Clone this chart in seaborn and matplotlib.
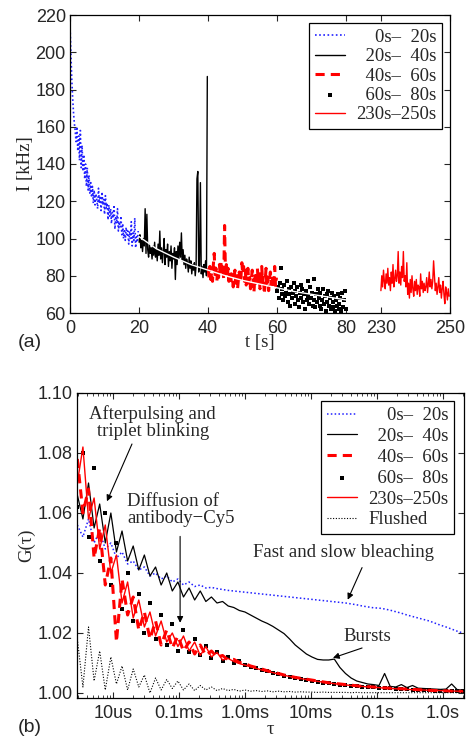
import numpy as np
import seaborn as sns
import matplotlib.pyplot as plt

# ---------------- panel (a): intensity traces ----------------
# time bases (s), one sample every 0.25 s
t_0_20 = np.arange(0, 20, 0.25)
t_20_40 = np.arange(20, 40, 0.25)
t_40_60 = np.arange(40, 60, 0.25)
t_60_80 = np.arange(60, 80, 0.25)
t_230_250 = np.arange(230, 250, 0.25)

I_0_20 = [215, 200, 186, 176, 168, 162, 158, 152, 160, 147, 155, 142,
          158, 138, 150, 136, 145, 132, 140, 128, 138, 126, 134, 124,
          130, 122, 128, 119, 126, 118, 124, 121, 116, 127, 119, 123,
          115, 125, 118, 121, 113, 123, 116, 119, 110, 118, 112, 116,
          108, 114, 111, 118, 105, 112, 108, 116, 104, 109, 106, 112,
          102, 108, 100, 105, 99, 106, 102, 104, 97, 104, 100, 109,
          96, 103, 99, 111, 95, 101, 98, 104]
I_20_40 = [98, 102, 95, 99, 93, 100, 96, 116, 92, 113, 94, 90,
           97, 92, 95, 89, 96, 91, 98, 90, 94, 88, 97, 91,
           104, 89, 95, 87, 93, 100, 86, 94, 90, 97, 85, 93,
           88, 96, 84, 92, 89, 95, 78, 93, 86, 96, 89, 98,
           90, 103, 88, 94, 86, 91, 84, 89, 87, 82, 90, 84,
           88, 81, 86, 83, 87, 80, 85, 132, 136, 82, 86, 130,
           81, 85, 79, 86, 82, 88, 80, 187]
I_40_60 = [84, 79, 85, 78, 82, 77, 86, 92, 80, 84, 77, 83,
           79, 86, 80, 88, 82, 85, 78, 107, 81, 86, 79, 84,
           77, 82, 75, 81, 80, 74, 79, 83, 76, 81, 73, 78,
           82, 76, 80, 87, 81, 85, 77, 83, 75, 80, 84, 76,
           79, 73, 78, 83, 77, 71, 80, 74, 79, 84, 76, 81,
           73, 78, 85, 76, 80, 70, 77, 84, 74, 79, 72, 78,
           82, 75, 80, 73, 77, 85, 74, 79]
I_60_80 = [72, 74, 68, 76, 84, 70, 73, 67, 75, 69, 71, 77,
           66, 73, 70, 64, 74, 68, 71, 76, 65, 72, 69, 74,
           67, 63, 71, 75, 68, 73, 66, 70, 62, 72, 67, 77,
           69, 65, 74, 68, 71, 64, 78, 67, 63, 70, 66, 73,
           68, 64, 71, 62, 67, 73, 65, 69, 61, 70, 66, 72,
           64, 68, 62, 71, 66, 63, 69, 61, 67, 64, 70, 62,
           65, 68, 61, 71, 63, 67, 72, 62]
I_230_250 = [72, 80, 74, 83, 77, 73, 81, 76, 84, 75, 79, 72,
             82, 76, 86, 74, 78, 83, 77, 80, 93, 76, 82, 75,
             85, 79, 93, 77, 80, 74, 87, 70, 76, 68, 78, 71,
             80, 73, 69, 77, 72, 78, 70, 75, 74, 69, 81, 73,
             77, 71, 76, 72, 74, 79, 71, 76, 82, 74, 78, 73,
             77, 88, 80, 72, 76, 70, 74, 79, 71, 75, 68, 73,
             77, 70, 65, 74, 71, 67, 73, 69]
fit_t = [20, 25, 30, 35, 40, 45, 50, 55, 60, 65, 70, 75, 80]
fit_I = [101, 94.5, 90, 86, 83, 80, 77.5, 75.5, 73.5, 71.5, 70, 68.5, 67]

# the axis is broken: 230-250 s is drawn right after 80 s
t_gap = 140
xticks_a = [0, 20, 40, 60, 80, 90, 110]
xticklabels_a = ["0", "20", "40", "60", "80", "230", "250"]

# ---------------- panel (b): correlation curves ----------------
tau = np.logspace(-5.54, 0.30, 70)

G_0_20 = [1.056, 1.052, 1.058, 1.050, 1.054, 1.048,
          1.050, 1.045, 1.047, 1.043, 1.044, 1.041,
          1.042, 1.039, 1.040, 1.038, 1.039, 1.037,
          1.038, 1.036, 1.037, 1.0355, 1.036, 1.035,
          1.0352, 1.0348, 1.0345, 1.0342, 1.034, 1.0338,
          1.0336, 1.0334, 1.0332, 1.033, 1.0328, 1.0326,
          1.0324, 1.0322, 1.032, 1.0318, 1.0316, 1.0314,
          1.0312, 1.031, 1.0308, 1.0306, 1.0304, 1.0302,
          1.030, 1.0297, 1.0294, 1.029, 1.0287, 1.0284,
          1.0283, 1.028, 1.0276, 1.0271, 1.0266, 1.026,
          1.0255, 1.025, 1.0245, 1.024, 1.0233, 1.0226,
          1.022, 1.0213, 1.0206, 1.020]
G_20_40 = [1.066, 1.058, 1.070, 1.055, 1.063, 1.050,
           1.060, 1.047, 1.054, 1.044, 1.049, 1.041,
           1.046, 1.039, 1.042, 1.036, 1.040, 1.034,
           1.037, 1.032, 1.035, 1.031, 1.034, 1.0305,
           1.032, 1.030, 1.0305, 1.029, 1.0285, 1.0275,
           1.027, 1.026, 1.025, 1.024, 1.0232, 1.0222,
           1.021, 1.0198, 1.018, 1.016, 1.0145, 1.013,
           1.012, 1.0112, 1.011, 1.011, 1.0113, 1.0085,
           1.0065, 1.005, 1.004, 1.0035, 1.003, 1.0028,
           1.0025, 1.0065, 1.0022, 1.002, 1.0028, 1.0018,
           1.0025, 1.0016, 1.0015, 1.0014, 1.0013, 1.0012,
           1.0013, 1.003, 1.0011, 1.001]
G_40_60 = [1.078, 1.060, 1.068, 1.045, 1.055, 1.036,
           1.045, 1.017, 1.038, 1.026, 1.032, 1.021,
           1.027, 1.018, 1.024, 1.016, 1.021, 1.015,
           1.019, 1.014, 1.017, 1.013, 1.016, 1.0125,
           1.014, 1.012, 1.0125, 1.011, 1.0112, 1.0102,
           1.0098, 1.009, 1.0085, 1.008, 1.0074, 1.007,
           1.0065, 1.006, 1.0056, 1.0052, 1.0049, 1.0046,
           1.0043, 1.004, 1.0037, 1.0034, 1.0032, 1.003,
           1.0028, 1.0026, 1.0024, 1.0022, 1.0021, 1.002,
           1.0018, 1.0017, 1.0016, 1.0015, 1.0014, 1.0013,
           1.0012, 1.0011, 1.001, 1.0009, 1.0008, 1.0008,
           1.0007, 1.0006, 1.0006, 1.0005]
G_60_80 = [1.062, 1.080, 1.052, 1.075, 1.044, 1.060,
           1.036, 1.050, 1.028, 1.040, 1.024, 1.033,
           1.020, 1.030, 1.018, 1.026, 1.016, 1.023,
           1.014, 1.021, 1.0135, 1.018, 1.0125, 1.0155,
           1.0115, 1.0135, 1.0105, 1.012, 1.010, 1.0105,
           1.0092, 1.0088, 1.0082, 1.0078, 1.0072, 1.0067,
           1.0062, 1.0058, 1.0054, 1.005, 1.0046, 1.0043,
           1.004, 1.0037, 1.0034, 1.0032, 1.003, 1.0028,
           1.0026, 1.0024, 1.0023, 1.0021, 1.002, 1.0019,
           1.0018, 1.0016, 1.0015, 1.0014, 1.0013, 1.0012,
           1.0011, 1.001, 1.001, 1.0009, 1.0008, 1.0008,
           1.0007, 1.0006, 1.0006, 1.0005]
G_230_250 = [1.070, 1.082, 1.058, 1.065, 1.048, 1.056,
             1.040, 1.046, 1.030, 1.037, 1.025, 1.031,
             1.022, 1.027, 1.019, 1.024, 1.017, 1.020,
             1.0155, 1.019, 1.014, 1.017, 1.0125, 1.0155,
             1.012, 1.0135, 1.011, 1.0115, 1.0105, 1.0098,
             1.0093, 1.0088, 1.0082, 1.0077, 1.0072, 1.0068,
             1.0063, 1.0059, 1.0055, 1.0051, 1.0048, 1.0045,
             1.0042, 1.0039, 1.0036, 1.0034, 1.0031, 1.0029,
             1.0027, 1.0025, 1.0023, 1.0022, 1.002, 1.0019,
             1.0018, 1.0016, 1.0015, 1.0014, 1.0013, 1.0012,
             1.0011, 1.0011, 1.001, 1.0009, 1.0009, 1.0008,
             1.0007, 1.0007, 1.0006, 1.0005]
G_flushed = [1.018, 1.002, 1.022, 1.004, 1.014, 1.001,
             1.012, 1.003, 1.009, 1.001, 1.008, 1.002,
             1.006, 1.000, 1.005, 1.001, 1.0045, 1.0015,
             1.004, 1.001, 1.003, 1.0008, 1.0025, 1.001,
             1.002, 1.0008, 1.0015, 1.0008, 1.0012, 1.0006,
             1.001, 1.0006, 1.0008, 1.0005, 1.0007, 1.0004,
             1.0006, 1.0004, 1.0005, 1.0003, 1.0004, 1.0003,
             1.0003, 1.0002, 1.0003, 1.0002, 1.0002, 1.0002,
             1.0002, 1.0001, 1.0002, 1.0001, 1.0001, 1.0001,
             1.0001, 1.0001, 1.0001, 1.0001, 1.0001, 1.0001,
             1.0001, 1.0001, 1.0001, 1.0001, 1.0001, 1.0001,
             1.0001, 1.0001, 1.0001, 1.0001]
xticks_b = [1e-5, 1e-4, 1e-3, 1e-2, 1e-1, 1e0]
xticklabels_b = ["10us", "0.1ms", "1.0ms", "10ms", "0.1s", "1.0s"]

labels = ["    0s\u2013  20s", "  20s\u2013  40s", "  40s\u2013  60s",
          "  60s\u2013  80s", "230s\u2013250s", "Flushed"]

# ---------------- style ----------------
sns.set_style("ticks")
plt.rcParams["font.family"] = ["Liberation Sans", "DejaVu Sans"]
plt.rcParams["xtick.direction"] = "in"
plt.rcParams["ytick.direction"] = "in"
plt.rcParams["xtick.top"] = True
plt.rcParams["ytick.right"] = True
plt.rcParams["axes.edgecolor"] = "black"
plt.rcParams["axes.linewidth"] = 0.9
serif = ["Liberation Serif", "DejaVu Serif"]
fs_text = 13.5
fs_tick = 13

fig = plt.figure(figsize=(4.71, 7.38), dpi=100)
ax1 = fig.add_axes([70 / 471, 1 - 313 / 738, 380 / 471, 298 / 738])
ax2 = fig.add_axes([77 / 471, 1 - 698 / 738, 387 / 471, 305 / 738])

# ---- panel (a)
sns.lineplot(x=t_0_20, y=I_0_20, ax=ax1, color="#2020ff", lw=1.2,
             linestyle=(0, (1, 1.5)), label=labels[0])
sns.lineplot(x=t_20_40, y=I_20_40, ax=ax1, color="black", lw=1.0, label=labels[1])
sns.lineplot(x=t_40_60, y=I_40_60, ax=ax1, color="red", lw=2.2,
             linestyle=(0, (3, 2)), label=labels[2])
sns.scatterplot(x=t_60_80, y=I_60_80, ax=ax1, color="black", marker="s", s=5,
                linewidth=0, label=labels[3])
sns.lineplot(x=t_230_250 - t_gap, y=I_230_250, ax=ax1, color="red", lw=1.0,
             label=labels[4])
sns.lineplot(x=fit_t, y=fit_I, ax=ax1, color="white", lw=1.0)

ax1.set_xlim(0, 110)
ax1.set_ylim(60, 220)
ax1.set_xticks(xticks_a)
ax1.set_xticklabels(xticklabels_a)
ax1.set_yticks(range(60, 221, 20))
ax1.tick_params(labelsize=fs_tick, length=4, width=0.8, pad=3)
ax1.tick_params(axis="x", pad=5)
ax1.set_xlabel("t [s]", family=serif, fontsize=fs_text)
ax1.set_ylabel("I [kHz]", family=serif, fontsize=fs_text)
ax1.xaxis.set_label_coords(0.5, -0.072)
ax1.yaxis.set_label_coords(-0.094, 0.5)
h, l = ax1.get_legend_handles_labels()
ax1.legend(h[:5], l[:5], loc="upper right", bbox_to_anchor=(0.99, 0.985),
           prop={"family": serif, "size": fs_text}, frameon=True, fancybox=False,
           edgecolor="black", framealpha=1, handlelength=1.6, handletextpad=0.6,
           labelspacing=0.12, borderpad=0.3, borderaxespad=0.2)
ax1.get_legend().get_frame().set_linewidth(0.9)

# ---- panel (b)
sns.lineplot(x=tau, y=G_0_20, ax=ax2, color="#2020ff", lw=1.1,
             linestyle=(0, (1, 1.5)), label=labels[0])
sns.lineplot(x=tau, y=G_20_40, ax=ax2, color="black", lw=0.9, label=labels[1])
sns.lineplot(x=tau, y=G_40_60, ax=ax2, color="red", lw=2.2,
             linestyle=(0, (3, 2)), label=labels[2])
sns.scatterplot(x=tau, y=G_60_80, ax=ax2, color="black", marker="s", s=5,
                linewidth=0, label=labels[3])
sns.lineplot(x=tau, y=G_230_250, ax=ax2, color="red", lw=1.0, label=labels[4])
sns.lineplot(x=tau, y=G_flushed, ax=ax2, color="black", lw=0.8,
             linestyle=(0, (1, 1.5)), label=labels[5])

ax2.set_xscale("log")
ax2.set_xlim(2.85e-6, 2.08)
ax2.set_ylim(0.99833, 1.10)
ax2.set_xticks(xticks_b)
ax2.set_xticklabels(xticklabels_b)
ax2.set_yticks([1.00, 1.02, 1.04, 1.06, 1.08, 1.10])
ax2.set_yticklabels(["1.00", "1.02", "1.04", "1.06", "1.08", "1.10"])
ax2.tick_params(labelsize=fs_tick, length=4, width=0.8, pad=3)
ax2.tick_params(axis="x", pad=5)
ax2.tick_params(which="minor", length=2, width=0.6)
ax2.set_xlabel("\u03c4", family=serif, fontsize=fs_text)
ax2.set_ylabel("G(\u03c4)", family=serif, fontsize=fs_text)
ax2.xaxis.set_label_coords(0.5, -0.076)
ax2.yaxis.set_label_coords(-0.108, 0.5)
ax2.legend(loc="upper right", bbox_to_anchor=(0.985, 0.985),
           prop={"family": serif, "size": fs_text}, frameon=True, fancybox=False,
           edgecolor="black", framealpha=1, handlelength=1.6, handletextpad=0.6,
           labelspacing=0.2, borderpad=0.3, borderaxespad=0.2)
ax2.get_legend().get_frame().set_linewidth(0.9)

arrow = dict(arrowstyle="-|>", color="black", lw=0.8, mutation_scale=9,
             shrinkA=0, shrinkB=0)
ax2.text(4.0e-5, 1.0903, "Afterpulsing and\ntriplet blinking", family=serif,
         fontsize=fs_text, ha="center", va="center", linespacing=1.0)
ax2.annotate("", xy=(8.1e-6, 1.0639), xytext=(1.94e-5, 1.083), arrowprops=arrow)
ax2.text(1.63e-5, 1.0609, "Diffusion of\nantibody\u2212Cy5", family=serif,
         fontsize=fs_text, ha="left", va="center", linespacing=1.0)
ax2.annotate("", xy=(1.04e-4, 1.0234), xytext=(1.04e-4, 1.0522), arrowprops=arrow)
ax2.text(1.32e-3, 1.0468, "Fast and slow bleaching", family=serif,
         fontsize=fs_text, ha="left", va="center")
ax2.annotate("", xy=(3.6e-2, 1.0311), xytext=(5.94e-2, 1.0418), arrowprops=arrow)
ax2.text(3.05e-2, 1.0187, "Bursts", family=serif, fontsize=fs_text,
         ha="left", va="center")
ax2.annotate("", xy=(2.15e-2, 1.0117), xytext=(5.94e-2, 1.015), arrowprops=arrow)

fig.text(18 / 471, 1 - 343 / 738, "(a)", fontsize=14, ha="left", va="center")
fig.text(18 / 471, 1 - 727 / 738, "(b)", fontsize=14, ha="left", va="center")

fig.savefig("out.png", dpi=100)
